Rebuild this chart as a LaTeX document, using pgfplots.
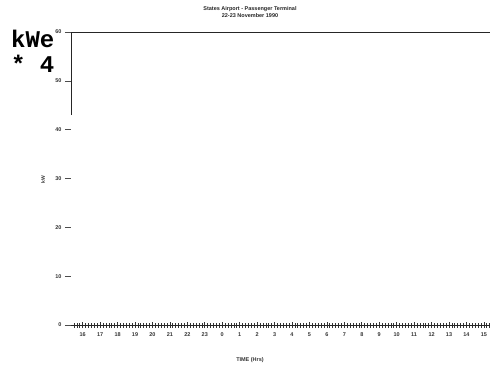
\documentclass[border=0pt]{standalone}
\usepackage{fontspec}
\setmainfont{Liberation Sans}
\newfontfamily\monob{Liberation Mono}
\usepackage{pgfplots}
\pgfplotsset{compat=1.18}
\begin{document}
\begin{tikzpicture}
\path[use as bounding box] (0,0) rectangle (490pt,370pt);
\begin{axis}[
  at={(71pt,45pt)}, anchor=south west,
  width=419pt, height=293pt, scale only axis,
  xmin=15.33, xmax=39.35, ymin=0, ymax=60,
  axis x line=bottom, axis y line=left,
  x axis line style={-, line width=0.8pt, black!85},
  y axis line style={draw=none},
  xtick={16,...,39},
  xticklabels={16,17,18,19,20,21,22,23,0,1,2,3,4,5,6,7,8,9,10,11,12,13,14,15},
  minor xtick={15.5,15.66667,...,39.34},
  ytick={0,10,20,30,40,50,60},
  ticklabel style={font=\fontsize{5.5}{6}\selectfont\bfseries, text=black!80},
  /pgf/number format/assume math mode=true,
  x tick style={line width=0.7pt, black!80},
  y tick style={line width=0.6pt, black!70},
  xtick align=center, ytick align=outside,
  major tick length=6pt, minor tick length=5pt,
  xticklabel style={yshift=-1pt},
  clip=false,
]
\addplot[black!85, line width=1pt] coordinates {(15.33,43) (15.33,60) (39.35,60)};
\end{axis}
\node[font=\fontsize{5.5}{6.5}\selectfont\bfseries, align=center, text=black!85] at (250pt,358pt) {States Airport - Passenger Terminal\\22-23 November 1990};
\node[font=\monob\fontsize{24}{25}\selectfont\bfseries, anchor=base west, inner sep=0pt] at (11pt,322pt) {kWe};
\node[font=\monob\fontsize{24}{25}\selectfont\bfseries, anchor=base west, inner sep=0pt] at (11pt,297pt) {* 4};
\node[font=\fontsize{5}{6}\selectfont\bfseries, rotate=90, text=black!80] at (43pt,190pt) {kW};
\node[font=\fontsize{5.5}{6}\selectfont\bfseries, text=black!80] at (250pt,10pt) {TIME (Hrs)};
\end{tikzpicture}
\end{document}
